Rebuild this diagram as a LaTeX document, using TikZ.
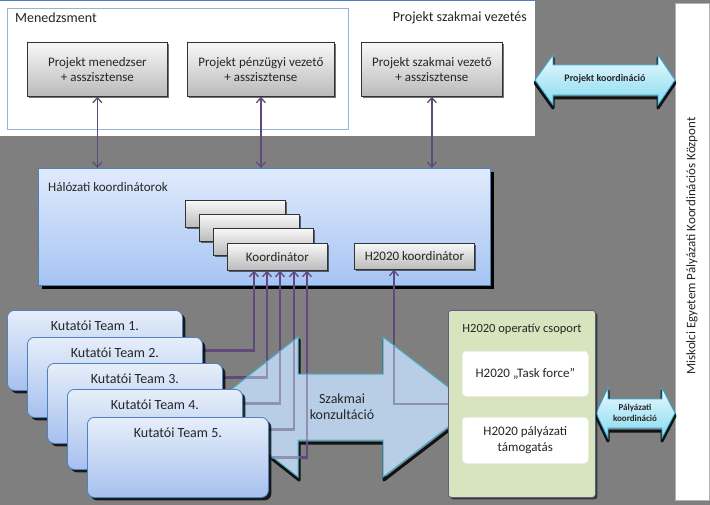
\documentclass[tikz,border=0pt]{standalone}
\usepackage{fontspec}
\setmainfont{Carlito}
\usetikzlibrary{arrows.meta,shadows,calc}
\definecolor{bg}{RGB}{127,127,127}
\definecolor{lilac}{RGB}{96,74,123}
\definecolor{gtop}{RGB}{248,248,248}
\definecolor{gbot}{RGB}{186,186,186}
\definecolor{htop}{RGB}{224,235,252}
\definecolor{hbot}{RGB}{165,196,243}
\definecolor{hborder}{RGB}{79,129,189}
\definecolor{ttop}{RGB}{230,238,250}
\definecolor{tbot}{RGB}{166,192,238}
\definecolor{afill}{RGB}{184,206,230}
\definecolor{aborder}{RGB}{75,172,198}
\definecolor{ctop}{RGB}{232,249,254}
\definecolor{cbot}{RGB}{135,218,240}
\definecolor{cborder}{RGB}{49,170,210}
\definecolor{gfill}{RGB}{215,228,189}
\definecolor{gborder}{RGB}{90,100,130}
\definecolor{mborder}{RGB}{149,179,215}
\definecolor{ink}{RGB}{38,38,38}
\pgfdeclarelayer{lineslayer}
\pgfdeclarelayer{overlayer}
\pgfdeclarelayer{frontlayer}
\pgfsetlayers{main,lineslayer,overlayer,frontlayer}
\begin{document}
\begin{tikzpicture}[x=1pt,y=-1pt,
  every node/.style={font=\fontsize{14}{16}\selectfont, text=ink},
  midfont/.style={font=\fontsize{13}{15.5}\selectfont},
  shadowed/.style={drop shadow={shadow xshift=2pt,shadow yshift=-2pt,opacity=0.55,fill=black}},
  graybox/.style={draw=black!80, line width=0.8pt, top color=gtop, bottom color=gbot,
    inner sep=0pt, anchor=north west, align=center, shadowed, midfont},
  team/.style={draw=hborder, line width=0.8pt, rounded corners=7pt, top color=ttop,
    bottom color=tbot, minimum height=80pt, inner sep=0pt, anchor=north west,
    drop shadow={shadow xshift=3pt,shadow yshift=-3pt,opacity=0.8,fill=black}},
  teamlbl/.style={anchor=north, yshift=-7pt},
  barb/.tip={Straight Barb[length=5pt,width=9pt,line width=1.3pt]},
  biconn/.style={draw=lilac, line width=1.6pt, barb-barb},
  tline/.style={draw=lilac, line width=2.6pt, barb-},
  hline/.style={draw=lilac, line width=1.2pt, barb-},
  cyanarrow/.style={draw=cborder, line width=0.8pt, top color=ctop, bottom color=cbot},
  arrowshadow/.style={draw=black, line width=3pt, opacity=0.85, line join=round},
  smalllbl/.style={font=\fontsize{10}{11}\selectfont\bfseries, text=ink, inner sep=0pt},
  whitebox/.style={fill=white, draw=white!88!gray, line width=0.6pt, rounded corners=4pt,
    anchor=north west, minimum width=126pt, inner sep=0pt, align=center, midfont}
]
\fill[bg] (0,0) rectangle (710,505);
\useasboundingbox (0,0) rectangle (710,505);

% ---------- top management area ----------
\node[fill=white, anchor=north west, minimum width=535pt, minimum height=136pt, inner sep=0pt] (topbox) at (0,0) {};
\draw[hborder, line width=1.2pt] (topbox.north west) -- (topbox.north east);
\node[draw=mborder, line width=0.8pt, anchor=north west, minimum width=341pt, minimum height=121pt, inner sep=0pt] (mgmt) at (7,8) {};
\node[anchor=west, inner sep=0pt] (mgmtlbl) at (15,18) {Menedzsment};
\node[anchor=east, inner sep=0pt] (szlbl) at (527,18) {Projekt szakmai vezetés};

\node[graybox, minimum width=140pt, minimum height=54pt] (pm) at (27,42) {Projekt menedzser\\+ asszisztense};
\node[graybox, minimum width=147pt, minimum height=54pt] (pp) at (187,42) {Projekt pénzügyi vezető\\+ asszisztense};
\node[graybox, minimum width=141pt, minimum height=54pt] (psz) at (361,42) {Projekt szakmai vezető\\+ asszisztense};

% ---------- right column ----------
\node[fill=white, draw=gray!60, line width=0.6pt, anchor=north west, minimum width=34pt, minimum height=497pt, inner sep=0pt] (mepk) at (675,3) {};
\node[rotate=90, inner sep=0pt, midfont] (mepklbl) at (692,246) {Miskolci Egyetem Pályázati Koordinációs Központ};

% ---------- Projekt koordináció arrow ----------
\draw[arrowshadow, shift={(0,3)}] (535,80) -- (553,55) -- (553,65) -- (658,65) -- (658,55) -- (675,80) -- (658,105) -- (658,95) -- (553,95) -- (553,105) -- cycle;
\draw[cyanarrow] (535,80) -- (553,55) -- (553,65) -- (658,65) -- (658,55) -- (675,80) -- (658,105) -- (658,95) -- (553,95) -- (553,105) -- cycle;
\node[smalllbl] (pklbl) at (605,79) {Projekt koordináció};

% ---------- Pályázati koordináció arrow ----------
\draw[arrowshadow, shift={(0,3)}] (596,413) -- (608,388) -- (608,399) -- (662,399) -- (662,388) -- (675,413) -- (662,438) -- (662,428) -- (608,428) -- (608,438) -- cycle;
\draw[cyanarrow] (596,413) -- (608,388) -- (608,399) -- (662,399) -- (662,388) -- (675,413) -- (662,438) -- (662,428) -- (608,428) -- (608,438) -- cycle;
\node[smalllbl, font=\fontsize{9}{11}\selectfont\bfseries, align=center] (pzlbl) at (635,413) {Pályázati\\koordináció};

% ---------- Hálózati koordinátorok ----------
\node[draw=hborder, line width=1pt, top color=htop, bottom color=hbot, anchor=north west,
  minimum width=452pt, minimum height=117pt, inner sep=0pt,
  drop shadow={shadow xshift=3.5pt,shadow yshift=-3.5pt,opacity=1,fill=black}] (halo) at (38,168) {};
\node[anchor=west, inner sep=0pt, midfont] (halolbl) at (48,187) {Hálózati koordinátorok};
\node[graybox, minimum width=100pt, minimum height=27pt] (s1) at (185,200) {};
\node[graybox, minimum width=100pt, minimum height=27pt] (s2) at (199,214) {};
\node[graybox, minimum width=100pt, minimum height=27pt] (s3) at (213,228) {};
\node[graybox, minimum width=100pt, minimum height=27pt] (koord) at (227,243) {Koordinátor};
\node[graybox, minimum width=120pt, minimum height=26pt] (h2k) at (354,243) {H2020 koordinátor};

% top connectors
\draw[biconn] (pm.south) -- (pm.south |- halo.north);
\draw[biconn] (pp.south) -- (pp.south |- halo.north);
\draw[biconn] (psz.south) -- (psz.south |- halo.north);

% ---------- Szakmai konzultáció block arrow (opaque base) ----------
\draw[arrowshadow, shift={(1,3)}] (209,407) -- (298,337) -- (298,374) -- (383,374) -- (383,337) -- (474,407) -- (383,477) -- (383,440) -- (298,440) -- (298,477) -- cycle;
\fill[afill] (209,407) -- (298,337) -- (298,374) -- (383,374) -- (383,337) -- (474,407) -- (383,477) -- (383,440) -- (298,440) -- (298,477) -- cycle;

% ---------- front: teams and operative group ----------
\begin{pgfonlayer}{frontlayer}
\node[team, minimum width=175pt] (t1) at (7,310) {};
\node[teamlbl] (t1l) at (t1.north) {Kutatói Team 1.};
\node[team, minimum width=175pt] (t2) at (27,337) {};
\node[teamlbl] (t2l) at (t2.north) {Kutatói Team 2.};
\node[team, minimum width=175pt] (t3) at (47,363) {};
\node[teamlbl] (t3l) at (t3.north) {Kutatói Team 3.};
\node[team, minimum width=175pt] (t4) at (67,389) {};
\node[teamlbl] (t4l) at (t4.north) {Kutatói Team 4.};
\node[team, minimum width=181pt] (t5) at (87,417) {};
\node[teamlbl] (t5l) at (t5.north) {Kutatói Team 5.};

\node[draw=gborder, line width=0.8pt, fill=gfill, rounded corners=3pt, anchor=north west,
  minimum width=147pt, minimum height=187pt, inner sep=0pt, shadowed] (grp) at (448,310) {};
\node[inner sep=0pt, font=\fontsize{12.5}{15}\selectfont] (grplbl) at (522,329) {H2020 operatív csoport};
\node[whitebox, minimum height=45pt] (tf) at (462,351) {H2020 „Task force”};
\node[whitebox, minimum height=46pt] (tam) at (462,417) {H2020 pályázati\\támogatás};
\end{pgfonlayer}

% ---------- connectors from teams ----------
\coordinate (k1) at ([xshift=27pt]koord.south west);
\coordinate (k2) at ([xshift=40pt]koord.south west);
\coordinate (k3) at ([xshift=53pt]koord.south west);
\coordinate (k4) at ([xshift=67pt]koord.south west);
\coordinate (k5) at ([xshift=80pt]koord.south west);
\coordinate (hk) at ([xshift=40pt]h2k.south west);
\begin{pgfonlayer}{lineslayer}
\draw[tline] (k1) |- (t1.east);
\draw[tline] (k2) |- (t2.east);
\draw[tline] (k3) |- (t3.east);
\draw[tline] (k4) |- (t4.east);
\draw[tline] (k5) |- (t5.east);
\draw[hline] (hk) |- (grp.west);
\end{pgfonlayer}

% ---------- Szakmai konzultáció overlay ----------
\begin{pgfonlayer}{overlayer}
\draw[draw=aborder, line width=1pt, fill=afill, fill opacity=0.55] (209,407) -- (298,337) -- (298,374) -- (383,374) -- (383,337) -- (474,407) -- (383,477) -- (383,440) -- (298,440) -- (298,477) -- cycle;
\node[align=center, inner sep=0pt] (szk) at (342,407) {Szakmai\\konzultáció};
\end{pgfonlayer}
\end{tikzpicture}
\end{document}
